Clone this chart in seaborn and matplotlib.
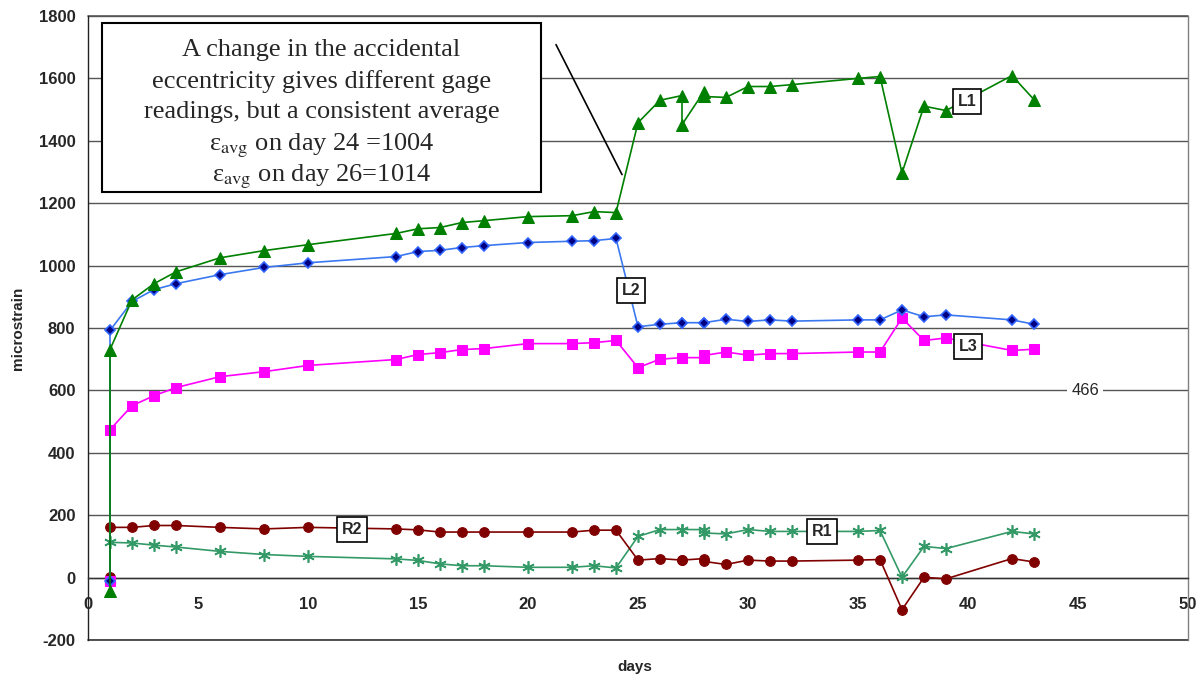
import numpy as np
import pandas as pd
import matplotlib
matplotlib.use("Agg")
import matplotlib.pyplot as plt
import seaborn as sns
from matplotlib.patches import Rectangle

# ---------------- data ----------------
days = [1, 1, 2, 3, 4, 6, 8, 10, 14, 15, 16, 17, 18, 20, 22, 23, 24, 25, 26, 27, 27,
        28, 28, 29, 30, 31, 32, 35, 36, 37, 38, 39, 42, 43]

L1 = [-44, 731, 890, 942, 980, 1025, 1048, 1067, 1103, 1118, 1122, 1138, 1144, 1157,
      1160, 1173, 1170, 1458, 1530, 1545, 1452, 1558, 1542, 1539, 1574, 1574, 1580,
      1600, 1606, 1297, 1511, 1497, 1609, 1532]
L2 = [-10, 792, 885, 923, 942, 971, 994, 1009, 1029, 1045, 1049, 1058, 1064, 1074,
      1078, 1080, 1087, 804, 812, 817, 817, 817, 817, 828, 821, 826, 822, 826, 826,
      858, 836, 842, 826, 812]
L3 = [-10, 474, 551, 583, 609, 644, 660, 680, 699, 715, 721, 731, 734, 750, 750, 753,
      760, 673, 700, 705, 705, 705, 712, 723, 713, 718, 718, 723, 723, 832, 760, 768,
      728, 732]
R1 = [-9, 113, 111, 104, 98, 84, 74, 68, 60, 55, 44, 38, 38, 33, 33, 38, 31, 132, 154,
      154, 154, 154, 143, 140, 154, 148, 148, 148, 151, 1, 100, 93, 148, 140]
R2 = [3, 161, 161, 167, 167, 161, 156, 161, 156, 153, 146, 146, 146, 146, 146, 152,
      152, 56, 61, 56, 56, 61, 52, 42, 56, 53, 53, 56, 58, -103, 1, -4, 61, 50]

series_names = ["L1", "L2", "L3", "R1", "R2"]
y_ticks = [-200, 0, 200, 400, 600, 800, 1000, 1200, 1400, 1600, 1800]
x_ticks = [0, 5, 10, 15, 20, 25, 30, 35, 40, 45, 50]

note_lines = ["A change in the accidental",
              "eccentricity gives different gage",
              "readings, but a consistent average",
              r"ε$_{\mathrm{avg}}$ on day 24 =1004",
              r"ε$_{\mathrm{avg}}$ on day 26=1014"]

# ---------------- style ----------------
sns.set_style("white")
plt.rcParams["font.family"] = ["Liberation Sans", "DejaVu Sans"]
plt.rcParams["mathtext.fontset"] = "stix"
plt.rcParams["axes.unicode_minus"] = False

fig = plt.figure(figsize=(12.03, 6.87), dpi=100)
ax = fig.add_axes([88 / 1203, 1 - 640 / 687, 1100 / 1203, 624 / 687])

styles = {
    "L1": dict(color="#008000", marker="^", markersize=8.5, markerfacecolor="#008000",
               markeredgecolor="#008000"),
    "L2": dict(color="#3a78f0", marker="D", markersize=5.5, markerfacecolor="#000080",
               markeredgecolor="#3366ff", markeredgewidth=1.2),
    "L3": dict(color="#ff00ff", marker="s", markersize=7, markerfacecolor="#ff00ff",
               markeredgecolor="#ff00ff"),
    "R1": dict(color="#339966", marker=(6, 2, 0), markersize=9, markerfacecolor="none",
               markeredgecolor="#339966", markeredgewidth=1.2),
    "R2": dict(color="#800000", marker="o", markersize=7, markerfacecolor="#800000",
               markeredgecolor="#800000"),
}
values = {"L1": L1, "L2": L2, "L3": L3, "R1": R1, "R2": R2}
order = ["R1", "R2", "L3", "L2", "L1"]

for name in order:
    df = pd.DataFrame({"days": days, "microstrain": values[name]})
    sns.lineplot(data=df, x="days", y="microstrain", estimator=None, sort=False,
                 ax=ax, linewidth=1.2, zorder=3, **styles[name])

# axes
ax.set_xlim(0, 50)
ax.set_ylim(-200, 1800)
ax.set_yticks(y_ticks)
ax.set_xticks(x_ticks)
ax.yaxis.grid(True, color="#555555", linewidth=1.0)
ax.xaxis.grid(False)
ax.set_axisbelow(True)
ax.axhline(-200, color="#333333", linewidth=1.2, clip_on=False, zorder=1)
ax.axhline(1800, color="#555555", linewidth=1.2, clip_on=False, zorder=1)

ax.spines["bottom"].set_position(("data", 0))
ax.spines["bottom"].set_color("#333333")
ax.spines["left"].set_color("#222222")
ax.spines["right"].set_color("#808080")
ax.spines["top"].set_visible(False)
for s in ax.spines.values():
    s.set_linewidth(1.0)

ax.tick_params(axis="x", direction="out", length=5, width=1, pad=9, color="#333333",
               labelsize=12)
ax.tick_params(axis="y", direction="out", length=5, width=1, pad=4, color="#333333",
               labelsize=12)
for lab in ax.get_xticklabels() + ax.get_yticklabels():
    lab.set_fontweight("bold")

ax.set_xlabel("")
ax.set_ylabel("")
fig.text(18 / 1203, 1 - 328 / 687, "microstrain", rotation=90, ha="center", va="center",
         fontsize=11, fontweight="bold")
fig.text(635 / 1203, 1 - 667 / 687, "days", ha="center", va="center",
         fontsize=11, fontweight="bold")

# series labels
def px2data(px, py):
    return (px - 88) / 22.0, (578 - py) / 0.312

label_pos = {"L1": (967, 102), "L2": (631, 291), "L3": (968, 347),
             "R1": (822, 532), "R2": (352, 530)}
for name, (px, py) in label_pos.items():
    x, y = px2data(px, py)
    ax.text(x, y, name, ha="center", va="center", fontsize=11.5, fontweight="bold",
            zorder=6, bbox=dict(boxstyle="square,pad=0.3", facecolor="white",
                                edgecolor="black", linewidth=1.2))

x466, y466 = px2data(1085, 391)
ax.text(x466, 600, "466", ha="center", va="center", fontsize=12, zorder=6,
        bbox=dict(boxstyle="square,pad=0.25", facecolor="white", edgecolor="none"))

# note box
bx0, by0 = px2data(102, 192)
bx1, by1 = px2data(541, 23)
rect = Rectangle((bx0, by0), bx1 - bx0, by1 - by0, facecolor="white",
                 edgecolor="black", linewidth=1.5, zorder=7)
ax.add_patch(rect)
clip_y = px2data(0, 183)[1]
clip_rect = Rectangle((bx0, clip_y), bx1 - bx0, by1 - clip_y, transform=ax.transData)
line_y = [50, 82, 112, 146, 177]
for line, py in zip(note_lines, line_y):
    tx, ly = px2data(321.5, py)
    t = ax.text(tx, ly, line, ha="center", va="center", fontsize=19,
                family=["Liberation Serif", "DejaVu Serif"], zorder=8)
    t.set_clip_path(clip_rect)

# pointer line
p0 = px2data(556, 45)
p1 = px2data(622, 175)
ax.plot([p0[0], p1[0]], [p0[1], p1[1]], color="black", linewidth=1.2, zorder=5)

fig.savefig("out.png", dpi=100)
